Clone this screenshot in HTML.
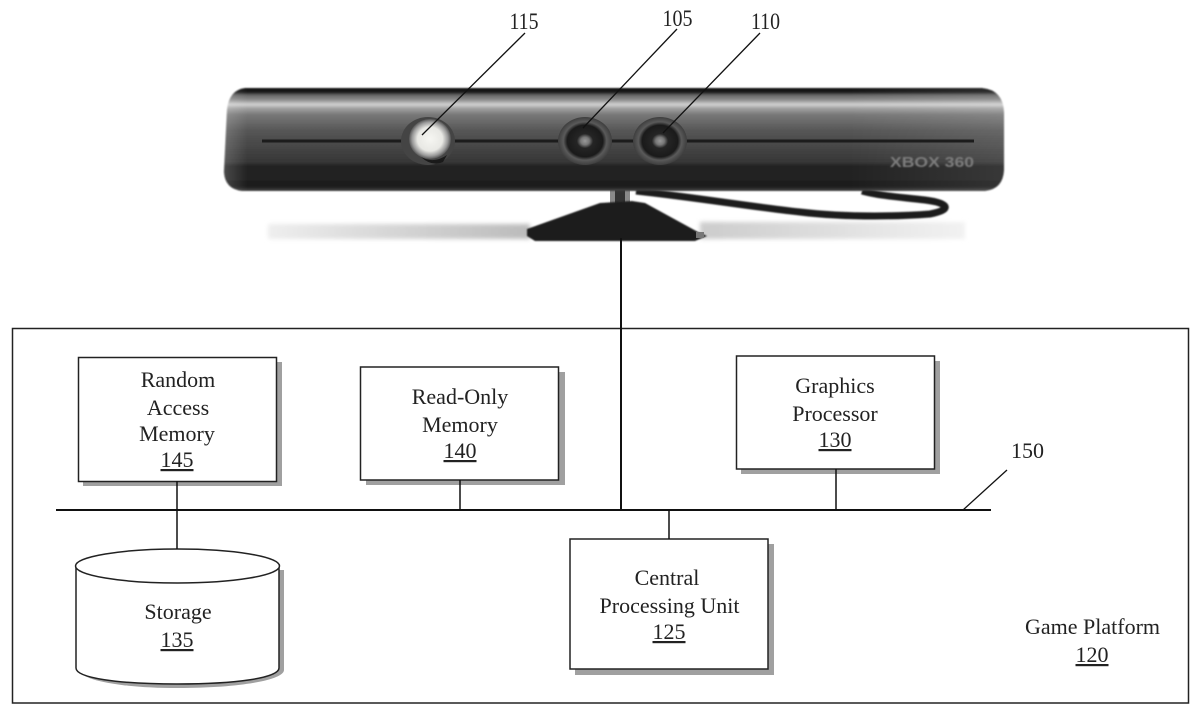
<!DOCTYPE html>
<html>
<head>
<meta charset="utf-8">
<style>
html,body{margin:0;padding:0;background:#fff;width:1200px;height:716px;overflow:hidden}
svg{display:block}
text{font-family:"Liberation Serif",serif;font-size:22px;fill:#222;text-anchor:middle}
</style>
</head>
<body>
<svg width="1200" height="716" viewBox="0 0 1200 716" xmlns="http://www.w3.org/2000/svg">
<defs>
<linearGradient id="body" x1="0" y1="0" x2="0" y2="1">
<stop offset="0" stop-color="#111"/>
<stop offset=".04" stop-color="#1c1c1c"/>
<stop offset=".07" stop-color="#666"/>
<stop offset=".11" stop-color="#888"/>
<stop offset=".16" stop-color="#d0d0d0"/>
<stop offset=".2" stop-color="#a0a0a0"/>
<stop offset=".26" stop-color="#777"/>
<stop offset=".42" stop-color="#555"/>
<stop offset=".55" stop-color="#484848"/>
<stop offset=".72" stop-color="#363636"/>
<stop offset=".76" stop-color="#222"/>
<stop offset=".96" stop-color="#1e1e1e"/>
<stop offset="1" stop-color="#444"/>
</linearGradient>
<linearGradient id="side" x1="0" y1="0" x2="1" y2="0">
<stop offset="0" stop-color="#fff" stop-opacity=".18"/>
<stop offset=".03" stop-color="#fff" stop-opacity="0"/>
<stop offset=".8" stop-color="#fff" stop-opacity="0"/>
<stop offset="1" stop-color="#fff" stop-opacity=".1"/>
</linearGradient>
<linearGradient id="floorL" x1="0" y1="0" x2="1" y2="0">
<stop offset="0" stop-color="#eee"/>
<stop offset="1" stop-color="#bbb"/>
</linearGradient>
<linearGradient id="floorR" x1="0" y1="0" x2="1" y2="0">
<stop offset="0" stop-color="#ccc"/>
<stop offset="1" stop-color="#f2f2f2"/>
</linearGradient>
<radialGradient id="flash" cx=".5" cy=".5" r=".5">
<stop offset="0" stop-color="#f6f6f2"/>
<stop offset=".6" stop-color="#e8e8e4"/>
<stop offset=".85" stop-color="#999"/>
<stop offset="1" stop-color="#555"/>
</radialGradient>
<radialGradient id="lens" cx=".5" cy=".5" r=".5">
<stop offset="0" stop-color="#999"/>
<stop offset=".16" stop-color="#777"/>
<stop offset=".3" stop-color="#252525"/>
<stop offset=".66" stop-color="#1a1a1a"/>
<stop offset=".8" stop-color="#5a5a5a"/>
<stop offset="1" stop-color="#3e3e3e"/>
</radialGradient>
<filter id="b1" x="-5%" y="-20%" width="110%" height="140%"><feGaussianBlur stdDeviation=".9"/></filter>
<filter id="b2" x="-5%" y="-50%" width="110%" height="200%"><feGaussianBlur stdDeviation="2"/></filter>
</defs>

<!-- floor shadow -->
<rect x="268" y="224" width="262" height="15" fill="url(#floorL)" filter="url(#b2)"/>
<rect x="700" y="222" width="265" height="17" fill="url(#floorR)" filter="url(#b2)"/>

<!-- cable -->
<path d="M636 191 C700 198 745 206 800 212 C850 218 905 216 930 214 C952 210 950 203 925 200 C900 197 880 196 862 191" fill="none" stroke="#1e1e1e" stroke-width="7" filter="url(#b1)"/>

<!-- stand -->
<rect x="610" y="190" width="20" height="14" fill="#8a8a8a"/>
<rect x="615" y="190" width="10" height="14" fill="#333"/>
<path d="M527 229 L600 203 L616 202 L632 201 L645 203 L698 232 L707 236 L695 241 L535 241 L527 236 Z" fill="#1e1e1e" filter="url(#b1)"/>
<rect x="696" y="232" width="8" height="6" fill="#777"/>

<!-- sensor body -->
<path d="M245 88 L982 88 Q1003 90 1004 112 L1004 170 Q1003 189 985 191 L242 191 Q225 189 224 172 L227 110 Q229 90 245 88 Z" fill="url(#body)" filter="url(#b1)"/>
<path d="M245 88 L982 88 Q1003 90 1004 112 L1004 170 Q1003 189 985 191 L242 191 Q225 189 224 172 L227 110 Q229 90 245 88 Z" fill="url(#side)"/>

<!-- slot line -->
<rect x="262" y="139.500" width="712" height="3" fill="#1c1c1c"/>

<!-- lenses -->
<ellipse cx="428" cy="141" rx="27" ry="24" fill="#444"/>
<ellipse cx="430" cy="139" rx="21" ry="20" fill="url(#flash)"/>
<path d="M421 157 Q434 164 447 155 L443 162 Q432 167 421 157 Z" fill="#1a1a1a"/>
<ellipse cx="585" cy="141" rx="27" ry="24" fill="url(#lens)"/>
<ellipse cx="660" cy="141" rx="27" ry="24" fill="url(#lens)"/>

<!-- XBOX logo -->
<text x="932" y="167" textLength="84" lengthAdjust="spacingAndGlyphs" style="font-family:'Liberation Sans',sans-serif;font-size:15px;font-weight:bold;fill:#7c7c7c" filter="url(#b1)">XBOX 360</text>

<!-- leaders -->
<g stroke="#111" stroke-width="1.3" fill="none">
<line x1="525" y1="33" x2="422" y2="135"/>
<line x1="677" y1="29" x2="583" y2="128"/>
<line x1="760" y1="33" x2="663" y2="133"/>
</g>
<text x="524" y="29" textLength="29" lengthAdjust="spacingAndGlyphs" style="font-size:23px">115</text>
<text x="677.500" y="26" textLength="30" lengthAdjust="spacingAndGlyphs" style="font-size:23px">105</text>
<text x="765.500" y="29" textLength="29" lengthAdjust="spacingAndGlyphs" style="font-size:23px">110</text>

<!-- outer platform box -->
<rect x="12.500" y="328.500" width="1176" height="374.500" fill="none" stroke="#222" stroke-width="1.5"/>

<!-- RAM -->
<rect x="83" y="362" width="199" height="124" fill="#a0a0a0"/>
<rect x="78.500" y="357.500" width="198" height="124" fill="#fff" stroke="#222" stroke-width="1.5"/>
<text x="178" y="387">Random</text>
<text x="178" y="415">Access</text>
<text x="177" y="441">Memory</text>
<text x="177" y="467" text-decoration="underline">145</text>

<!-- ROM -->
<rect x="366" y="372" width="199" height="113" fill="#a0a0a0"/>
<rect x="360.500" y="367" width="198" height="113" fill="#fff" stroke="#222" stroke-width="1.5"/>
<text x="460" y="404">Read-Only</text>
<text x="460" y="432">Memory</text>
<text x="460" y="458" text-decoration="underline">140</text>

<!-- GPU -->
<rect x="741" y="361" width="199" height="113" fill="#a0a0a0"/>
<rect x="736.500" y="356" width="198" height="113" fill="#fff" stroke="#222" stroke-width="1.5"/>
<text x="835" y="393">Graphics</text>
<text x="835" y="421">Processor</text>
<text x="835" y="447" text-decoration="underline">130</text>

<!-- CPU -->
<rect x="575" y="544" width="199" height="131" fill="#a0a0a0"/>
<rect x="570" y="539" width="198" height="130" fill="#fff" stroke="#222" stroke-width="1.5"/>
<text x="667" y="585">Central</text>
<text x="669.500" y="613">Processing Unit</text>
<text x="669" y="639" text-decoration="underline">125</text>

<!-- Storage -->
<path d="M80 570 L284 570 L284 670 C284 680 240 688 178 688 C120 688 80 680 80 670 Z" fill="#a0a0a0"/>
<path d="M76 566 L76 668 C76 678 118 684 177 684 C236 684 279 678 279 668 L279 566 Z" fill="#fff" stroke="#222" stroke-width="1.5"/>
<ellipse cx="177.500" cy="566" rx="102" ry="17" fill="#fff" stroke="#222" stroke-width="1.5"/>
<text x="178" y="619">Storage</text>
<text x="177" y="647" text-decoration="underline">135</text>

<!-- connectors -->
<g stroke="#111" fill="none">
<line x1="621" y1="238" x2="621" y2="510" stroke-width="2"/>
<line x1="56" y1="510" x2="991" y2="510" stroke-width="2"/>
<line x1="177" y1="481" x2="177" y2="549" stroke-width="1.5"/>
<line x1="460" y1="480" x2="460" y2="510" stroke-width="1.5"/>
<line x1="836" y1="469" x2="836" y2="510" stroke-width="1.5"/>
<line x1="669" y1="510" x2="669" y2="539" stroke-width="1.5"/>
<line x1="963" y1="510" x2="1007" y2="470" stroke-width="1.3"/>
</g>

<!-- labels -->
<text x="1092.500" y="634">Game Platform</text>
<text x="1092" y="662" text-decoration="underline">120</text>
<text x="1027.500" y="458">150</text>
</svg>
</body>
</html>
